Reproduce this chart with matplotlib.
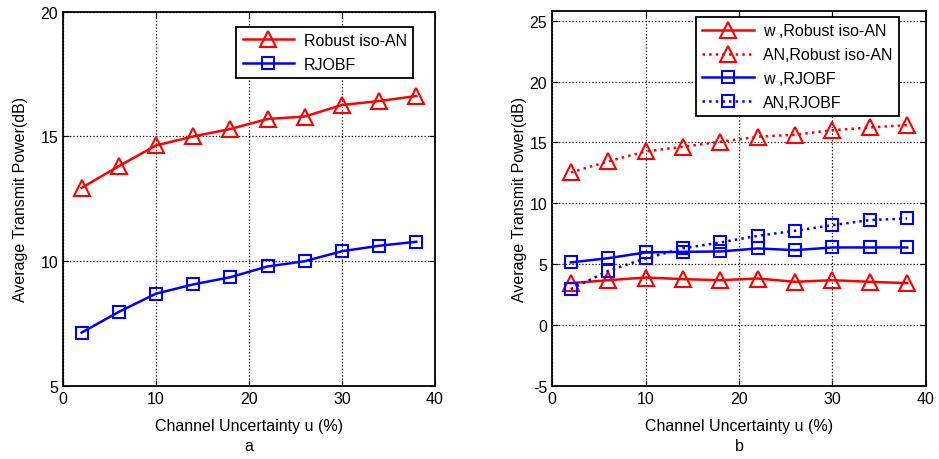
import matplotlib
matplotlib.use("Agg")
import matplotlib.pyplot as plt

plt.rcParams["font.family"] = ["Liberation Sans", "DejaVu Sans"]
plt.rcParams["axes.unicode_minus"] = False

u = [2, 6, 10, 14, 18, 22, 26, 30, 34, 38]

# panel a
iso_an = [12.94, 13.81, 14.64, 15.0, 15.3, 15.7, 15.8, 16.26, 16.42, 16.62]
rjobf = [7.14, 7.97, 8.70, 9.07, 9.36, 9.79, 10.0, 10.40, 10.62, 10.78]

# panel b
w_iso = [3.44, 3.68, 3.90, 3.77, 3.68, 3.82, 3.55, 3.68, 3.55, 3.44]
an_iso = [12.53, 13.44, 14.26, 14.64, 15.05, 15.47, 15.63, 16.0, 16.23, 16.42]
w_rjobf = [5.14, 5.49, 5.96, 6.01, 6.04, 6.29, 6.15, 6.37, 6.37, 6.37]
an_rjobf = [2.95, 4.45, 5.47, 6.3, 6.78, 7.33, 7.74, 8.2, 8.62, 8.75]

FS = 11.5
fig = plt.figure(figsize=(9.39, 4.6), dpi=100)
ax1 = fig.add_axes([0.0671, 0.1587, 0.396, 0.8137])
ax2 = fig.add_axes([0.588, 0.159, 0.398, 0.815])

tri = dict(marker="^", markersize=11, markerfacecolor="none", markeredgewidth=1.5, lw=1.8)
sq = dict(marker="s", markersize=8, markerfacecolor="none", markeredgewidth=1.5, lw=1.8)

ax1.plot(u, iso_an, color="red", label="Robust iso-AN", **tri)
ax1.plot(u, rjobf, color="blue", label="RJOBF", **sq)
ax1.set_xlim(0, 40)
ax1.set_ylim(5, 20)
ax1.set_yticks([5, 10, 15, 20])

ax2.plot(u, w_iso, color="red", ls="-", label="w ,Robust iso-AN", **tri)
ax2.plot(u, an_iso, color="red", ls=":", label="AN,Robust iso-AN", **tri)
ax2.plot(u, w_rjobf, color="blue", ls="-", label="w ,RJOBF", **sq)
ax2.plot(u, an_rjobf, color="blue", ls=":", label="AN,RJOBF", **sq)
ax2.set_xlim(0, 40)
ax2.set_ylim(-5, 25.8)
ax2.set_yticks([-5, 0, 5, 10, 15, 20, 25])

for ax, tag, ylx, anchor in [(ax1, "a", -0.094, (0.941, 0.96)),
                             (ax2, "b", -0.068, (0.928, 0.984))]:
    ax.set_xticks([0, 10, 20, 30, 40])
    ax.grid(True, color="black", ls=":", lw=0.9)
    ax.tick_params(direction="in", labelsize=FS, top=True, right=True, length=4)
    for s in ax.spines.values():
        s.set_linewidth(1.3)
    ax.set_xlabel("Channel Uncertainty u (%)", fontsize=FS, labelpad=9)
    ax.set_ylabel("Average Transmit Power(dB)", fontsize=FS)
    ax.yaxis.set_label_coords(ylx, 0.5)
    ax.text(0.5, -0.16, tag, transform=ax.transAxes, ha="center", va="center", fontsize=FS)
    leg = ax.legend(loc="upper right", bbox_to_anchor=anchor, fontsize=FS,
                    fancybox=False, framealpha=1, edgecolor="black",
                    handlelength=3.2, borderpad=0.4, labelspacing=0.55,
                    handletextpad=0.6, borderaxespad=0)
    leg.get_frame().set_linewidth(1.3)

fig.savefig("out.png", dpi=100)
